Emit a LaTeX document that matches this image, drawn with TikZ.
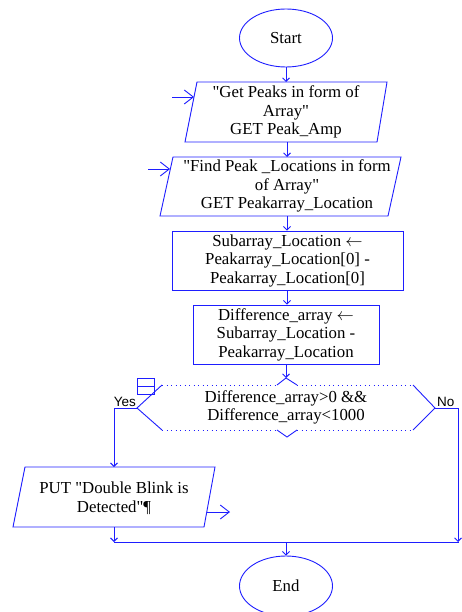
\documentclass[tikz,border=0pt]{standalone}
\usepackage{fontspec}
\setmainfont{Liberation Serif}[Ligatures=TeXOff]
\newfontfamily\yesnofont{Liberation Sans}
\usetikzlibrary{arrows.meta, positioning, calc, shapes.geometric}

\definecolor{flowblue}{RGB}{30,30,255}

\tikzset{
  flowline/.style={draw=flowblue, line width=0.9pt},
  flowarrow/.style={flowline, -{Straight Barb[length=3.5pt,width=7pt]}},
  inarrow/.style={flowline, -{Straight Barb[length=9pt,width=14pt]}},
  terminal/.style={ellipse, flowline, minimum width=93pt, minimum height=58pt, inner sep=0pt, font=\fontsize{16.8}{18.5}\selectfont},
  processbox/.style={rectangle, flowline, inner sep=0pt, align=center, font=\fontsize{16.8}{18.5}\selectfont},
  flowtext/.style={align=center, inner sep=0pt, font=\fontsize{16.8}{18.5}\selectfont},
  branchtext/.style={inner sep=1pt, font=\yesnofont\fontsize{13.5}{15}\selectfont},
}

\begin{document}
\begin{tikzpicture}[x=1pt, y=-1pt]
    \useasboundingbox (0,0) rectangle (461,612);

    % start / end
    \node[terminal] (start) at (286,38) {Start};
    \node[terminal, minimum height=60pt] (end) at (286,586) {End};

    % input: peaks
    \draw[flowline] (197,82) -- (387,82) -- (377,142) -- (185,142) -- cycle;
    \node[flowtext] (getpeaks) at (286,112) {"Get Peaks in form of\\Array"\\GET Peak\_Amp};
    \coordinate (getpeaksTop) at (286,82);
    \coordinate (getpeaksBot) at (287,142);
    \coordinate (getpeaksIn) at (194,97);
    \coordinate (getpeaksSrc) at (172,97);

    % input: locations
    \draw[flowline] (173,157) -- (401,157) -- (388,216) -- (160,216) -- cycle;
    \node[flowtext] (getlocs) at (287,186) {"Find Peak \_Locations in form\\of Array"\\GET Peakarray\_Location};
    \coordinate (getlocsTop) at (287,157);
    \coordinate (getlocsBot) at (287,216);
    \coordinate (getlocsIn) at (170,169);
    \coordinate (getlocsSrc) at (148,169);

    % assignments
    \node[processbox, minimum width=231pt, minimum height=59pt] (subarray) at (287.5,260.5)
        {Subarray\_Location $\leftarrow$\\Peakarray\_Location[0] -\\Peakarray\_Location[0]};
    \node[processbox, minimum width=186pt, minimum height=59pt] (diffarray) at (286,334.5)
        {Difference\_array $\leftarrow$\\Subarray\_Location -\\Peakarray\_Location};

    % decision
    \draw[flowline] (162,385) -- (137,408) -- (162,430);
    \draw[flowline] (413,385) -- (435,408) -- (413,430);
    \draw[flowline, dash pattern=on 1.2pt off 3.3pt]
        (162,385) -- (277,385) (297,385) -- (413,385)
        (162,430) -- (277,430) (297,430) -- (413,430);
    \draw[flowline] (277,385) -- (286,378) -- (297,385);
    \draw[flowline] (277,430) -- (287,437) -- (297,430);
    \draw[flowline] (137,378) rectangle (154,394) (137,386) -- (154,386);
    \node[flowtext] (check) at (286,407.5) {Difference\_array>0 \&\&\\Difference\_array<1000};
    \coordinate (checkTop) at (286,378);
    \coordinate (checkYes) at (137,408);
    \coordinate (checkNo) at (435,408);
    \coordinate (yesCorner) at (114,408);
    \coordinate (noCorner) at (458,408);
    \node[branchtext, anchor=south east] (yes) at (137,408) {Yes};
    \node[branchtext, anchor=south west] (no) at (436,408) {No};

    % output
    \draw[flowline] (25,467) -- (215,467) -- (204,527) -- (13,527) -- cycle;
    \node[flowtext] (putmsg) at (114,498) {PUT "Double Blink is\\Detected"¶};
    \coordinate (putmsgTop) at (114,467);
    \coordinate (putmsgBot) at (114,527);
    \coordinate (putmsgOut) at (207,512);
    \coordinate (putmsgDst) at (230,512);

    % merge
    \coordinate (mergeL) at (114,542);
    \coordinate (mergeR) at (458,542);
    \coordinate (mergeC) at (286,542);

    % connectors
    \draw[flowarrow] (start) -- (getpeaksTop);
    \draw[inarrow] (getpeaksSrc) -- (getpeaksIn);
    \draw[flowarrow] (getpeaksBot) -- (getlocsTop);
    \draw[inarrow] (getlocsSrc) -- (getlocsIn);
    \draw[flowarrow] (getlocsBot) -- (subarray.north -| getlocsBot);
    \draw[flowarrow] (subarray.south -| getlocsBot) -- (diffarray.north -| getlocsBot);
    \draw[flowarrow] (diffarray.south -| checkTop) -- (checkTop);
    \draw[flowline] (checkYes) -- (yesCorner);
    \draw[flowarrow] (yesCorner) -- (putmsgTop);
    \draw[inarrow] (putmsgOut) -- (putmsgDst);
    \draw[flowarrow] (putmsgBot) -- (mergeL);
    \draw[flowarrow] (checkNo) -- (noCorner) -- (mergeR);
    \draw[flowline] (mergeL) -- ([xshift=1pt]mergeR);
    \draw[flowarrow] (mergeC) -- (end);
\end{tikzpicture}
\end{document}
